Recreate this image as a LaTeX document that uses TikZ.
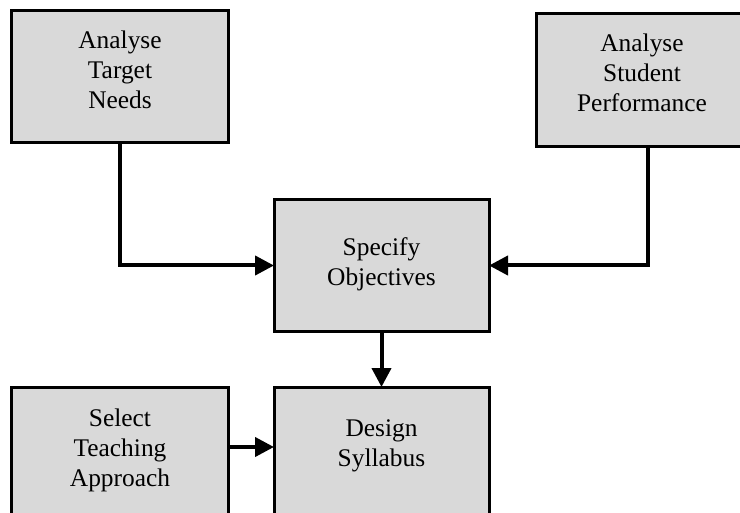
\documentclass[tikz,border=0pt]{standalone}
\usepackage{fontspec}
\setmainfont{Liberation Serif}
\usetikzlibrary{arrows.meta}
\definecolor{boxgray}{HTML}{D9D9D9}
\begin{document}
\begin{tikzpicture}[x=1bp,y=-1bp,
  box/.style={draw=black, line width=3bp, fill=boxgray, inner sep=0pt, outer sep=0pt},
  lbl/.style={align=center, inner sep=0pt, font=\fontsize{25.5}{30}\selectfont},
  conn/.style={line width=4bp, -{Triangle[length=19bp,width=19bp]}},
  wire/.style={line width=4bp}]
\useasboundingbox (0,0) rectangle (740,513);
\clip (0,0) rectangle (740,513);
\node[box, minimum width=216bp, minimum height=132bp] (atn) at (120,77) {};
\node[box, minimum width=224bp, minimum height=133bp] (asp) at (648,80.5) {};
\node[box, minimum width=215bp, minimum height=131bp] (spec) at (381.5,265.5) {};
\node[box, minimum width=216bp, minimum height=133bp] (sel) at (120,453.5) {};
\node[box, minimum width=215bp, minimum height=133bp] (des) at (381.5,453.5) {};
\node[lbl] (tatn) at (120,70) {Analyse\\Target\\Needs};
\node[lbl] (tasp) at (642,72.5) {Analyse\\Student\\Performance};
\node[lbl] (tspec) at (381.5,264.5) {Specify\\Objectives};
\node[lbl] (tsel) at (120,450) {Select\\Teaching\\Approach};
\node[lbl] (tdes) at (381.5,445.5) {Design\\Syllabus};
\draw[conn] (atn.south) |- (spec.west);
\draw[conn] (asp.south) |- (spec.east);
\draw[conn] (spec.south) -- (des.north);
\draw[conn] ([yshift=6.5bp]sel.east) -- ([yshift=6.5bp]des.west);
\end{tikzpicture}
\end{document}
